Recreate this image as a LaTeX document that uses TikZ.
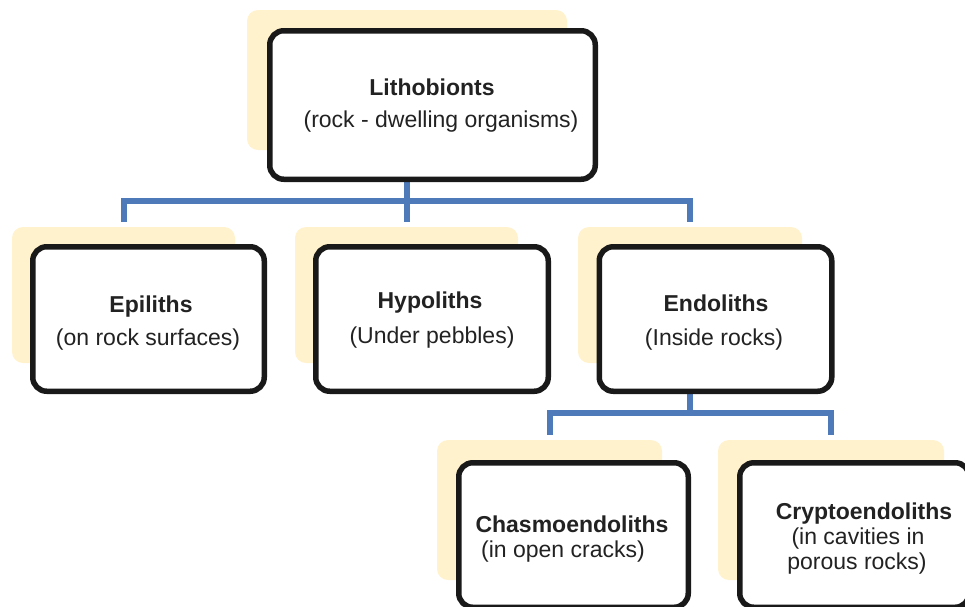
\documentclass[tikz,border=0pt]{standalone}
\usepackage{fontspec}
\setmainfont{Liberation Sans}
\definecolor{shadowc}{HTML}{FFF2CC}
\definecolor{connc}{HTML}{4F7AB9}
\definecolor{txtc}{HTML}{222222}
\pgfdeclarelayer{background}
\pgfsetlayers{background,main}
\begin{document}
\begin{tikzpicture}[x={(1pt,0)}, y={(0,-1pt)},
  shadowbox/.style={rectangle, fill=shadowc, draw=none, rounded corners=11pt, inner sep=0pt},
  mainbox/.style={rectangle, fill=white, draw=black!90, line width=5.5pt, rounded corners=14pt, inner sep=0pt},
  conn/.style={draw=connc, line width=6pt},
  lbl/.style={anchor=base, inner sep=0pt, text=txtc, font=\fontsize{23}{27}\selectfont},
  lblb/.style={lbl, font=\fontsize{23}{27}\selectfont\bfseries}]
\useasboundingbox (0,0) rectangle (965,606);
\clip (0,0) rectangle (965,606);
% shadows
\node[shadowbox, minimum width=320pt, minimum height=140pt] (topsh) at (407,80) {};
\node[shadowbox, minimum width=223pt, minimum height=136pt] (epish) at (123.5,295) {};
\node[shadowbox, minimum width=223pt, minimum height=136pt] (hyposh) at (406.5,295) {};
\node[shadowbox, minimum width=224pt, minimum height=136pt] (endosh) at (690,295) {};
\node[shadowbox, minimum width=225pt, minimum height=140pt] (chsh) at (549.5,510) {};
\node[shadowbox, minimum width=226pt, minimum height=140pt] (crsh) at (831,510) {};
% bus coordinates
\coordinate (bus1) at (0,201);
\coordinate (bus2) at (0,413);
% boxes
\node[mainbox, minimum width=325.5pt, minimum height=148.5pt] (top) at (432.5,105) {};
\node[mainbox, minimum width=231.5pt, minimum height=144.5pt] (epi) at (148.5,319) {};
\node[mainbox, minimum width=232.5pt, minimum height=144.5pt] (hypo) at (432,319) {};
\node[mainbox, minimum width=232.5pt, minimum height=144.5pt] (endo) at (715.5,319) {};
\node[mainbox, minimum width=229.5pt, minimum height=144.5pt] (chasmo) at (573.5,535) {};
\node[mainbox, minimum width=229.5pt, minimum height=144.5pt] (crypto) at (854.5,535) {};
% connectors (behind boxes)
\begin{pgfonlayer}{background}
\path[conn] (top.south -| topsh.center) -- (topsh.center |- bus1);
\path[conn] ([yshift=5pt]epish.north) -- (epish.north |- bus1) -- (endosh.north |- bus1) -- ([yshift=5pt]endosh.north);
\path[conn] (hyposh.north |- bus1) -- ([yshift=5pt]hyposh.north);
\path[conn] (endo.south -| endosh.center) -- (endosh.center |- bus2);
\path[conn] ([yshift=5pt]chsh.north) -- (chsh.north |- bus2) -- (crsh.north |- bus2) -- ([yshift=5pt]crsh.north);
\end{pgfonlayer}
% labels
\node[lblb] (t1a) at (432,95) {Lithobionts};
\node[lbl] (t1b) at (441,127) {(rock - dwelling organisms)};
\node[lblb] (t2a) at (151,312) {Epiliths};
\node[lbl] (t2b) at (148,345) {(on rock surfaces)};
\node[lblb] (t3a) at (430,308) {Hypoliths};
\node[lbl] (t3b) at (432,343) {(Under pebbles)};
\node[lblb] (t4a) at (716,311) {Endoliths};
\node[lbl] (t4b) at (714,345) {(Inside rocks)};
\node[lblb] (t5a) at (572,532) {Chasmoendoliths};
\node[lbl] (t5b) at (563,557) {(in open cracks)};
\node[lblb] (t6a) at (864,519) {Cryptoendoliths};
\node[lbl] (t6b) at (858,544) {(in cavities in};
\node[lbl] (t6c) at (857,569) {porous rocks)};
\end{tikzpicture}
\end{document}
